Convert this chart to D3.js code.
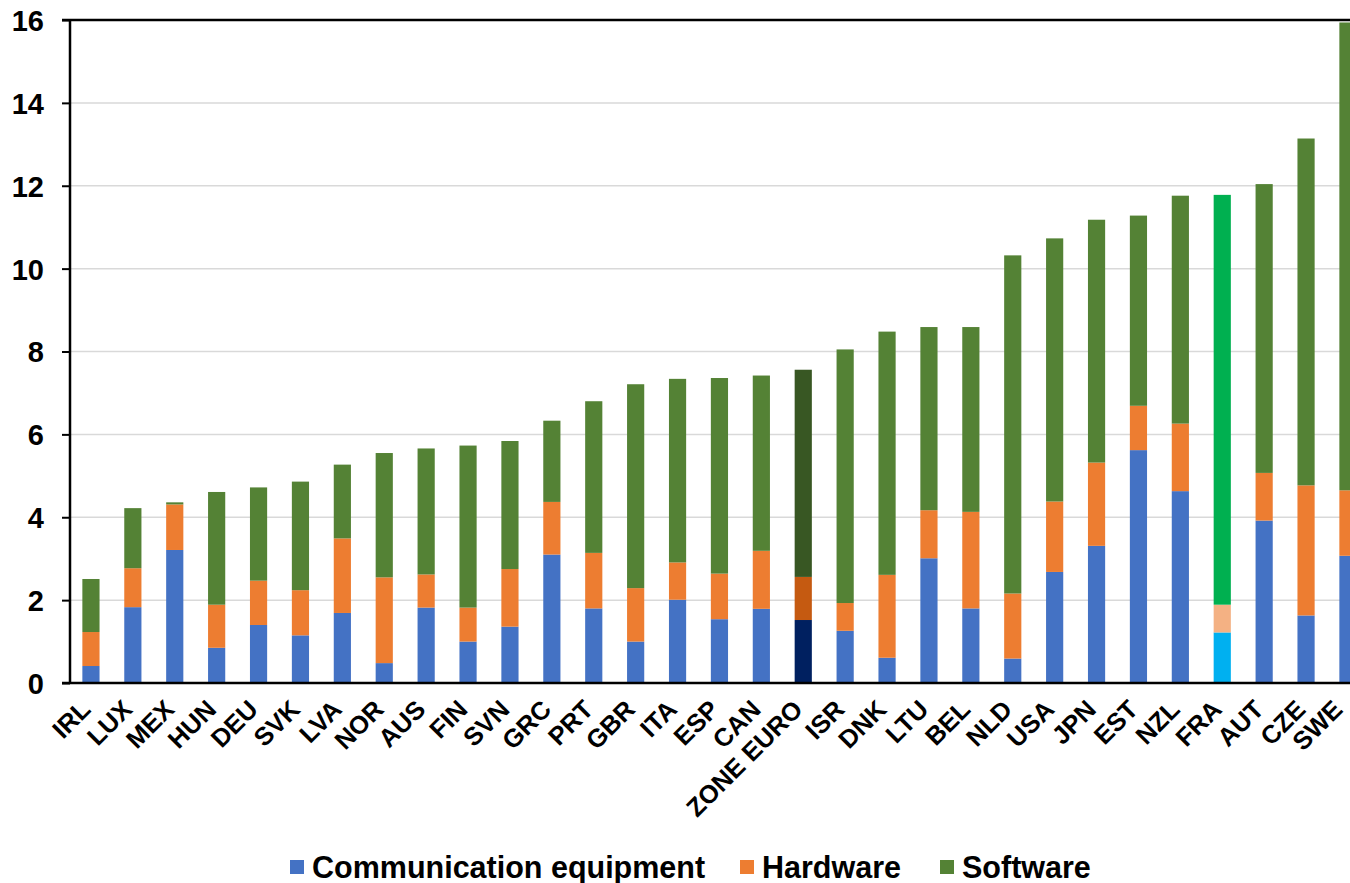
<!DOCTYPE html>
<html>
<head>
<meta charset="utf-8">
<script src="https://cdn.jsdelivr.net/npm/d3@7"></script>
<style>
  body { margin: 0; background: #fff; }
  text { font-family: "Liberation Sans", Arial, sans-serif; font-weight: bold; fill: #000; }
</style>
</head>
<body>
<div id="chart"></div>
<script>

// countries, in chart order
var countries = ["IRL", "LUX", "MEX", "HUN", "DEU", "SVK", "LVA", "NOR", "AUS", "FIN",
  "SVN", "GRC", "PRT", "GBR", "ITA", "ESP", "CAN", "ZONE EURO", "ISR", "DNK",
  "LTU", "BEL", "NLD", "USA", "JPN", "EST", "NZL", "FRA", "AUT", "CZE", "SWE"];

// share of each component
var communication = [0.41, 1.83, 3.21, 0.85, 1.40, 1.15, 1.69, 0.48, 1.82, 1.00,
  1.36, 3.10, 1.80, 1.00, 2.01, 1.54, 1.79, 1.52, 1.26, 0.61,
  3.01, 1.80, 0.59, 2.68, 3.31, 5.62, 4.63, 1.22, 3.92, 1.63, 3.07];

var hardware = [0.82, 0.94, 1.10, 1.04, 1.07, 1.09, 1.80, 2.07, 0.80, 0.82,
  1.39, 1.27, 1.34, 1.29, 0.90, 1.10, 1.40, 1.04, 0.67, 2.00,
  1.16, 2.33, 1.57, 1.70, 2.01, 1.07, 1.63, 0.67, 1.15, 3.14, 1.58];

var software = [1.28, 1.45, 0.05, 2.72, 2.25, 2.62, 1.78, 3.00, 3.04, 3.91,
  3.09, 1.96, 3.66, 4.92, 4.43, 4.72, 4.23, 5.00, 6.12, 5.87,
  4.42, 4.46, 8.16, 6.35, 5.86, 4.59, 5.50, 9.89, 6.97, 8.37, 11.29];

var seriesNames = ["Communication equipment", "Hardware", "Software"];
var seriesColors = ["#4472C4", "#ED7D31", "#548235"];

// highlighted bars get their own shades
var highlightColors = {
  "ZONE EURO": ["#002060", "#C55A11", "#385723"],
  "FRA": ["#00B0F0", "#F4B183", "#00B050"]
};

var yTicks = [0, 2, 4, 6, 8, 10, 12, 14, 16];

var width = 1350,
    height = 883;

var svg = d3.select("#chart").append("svg")
  .attr("width", width)
  .attr("height", height);

var rows = countries.map(function(c, i){
  return { country: c, "Communication equipment": communication[i], "Hardware": hardware[i], "Software": software[i] };
});

var stacked = d3.stack().keys(seriesNames)(rows);

var xScale = d3.scaleBand()
  .domain(countries)
  .range([70, 70 + countries.length * 41.9])
  .paddingInner(0.59)
  .paddingOuter(0.295);

var yScale = d3.scaleLinear()
  .domain([0, 16])
  .range([683, 20]);

// gridlines
svg.append("g")
  .selectAll("line")
  .data(yTicks.filter(function(d){ return d > 0 && d < 16; }))
  .enter().append("line")
  .attr("x1", 70)
  .attr("x2", width)
  .attr("y1", function(d){ return yScale(d); })
  .attr("y2", function(d){ return yScale(d); })
  .attr("stroke", "#d9d9d9")
  .attr("stroke-width", 1.5);

// bars
svg.append("g")
  .selectAll("g")
  .data(stacked)
  .enter().append("g")
  .each(function(layer, si){
    d3.select(this).selectAll("rect")
      .data(layer)
      .enter().append("rect")
      .attr("x", function(d){ return xScale(d.data.country); })
      .attr("width", xScale.bandwidth())
      .attr("y", function(d){ return yScale(d[1]); })
      .attr("height", function(d){ return yScale(d[0]) - yScale(d[1]); })
      .attr("fill", function(d){
        var h = highlightColors[d.data.country];
        return h ? h[si] : seriesColors[si];
      });
  });

// y axis
var yAxis = d3.axisLeft(yScale)
  .tickValues(yTicks)
  .tickSize(8)
  .tickPadding(18);

var yg = svg.append("g")
  .attr("transform", "translate(70,0)")
  .call(yAxis);
yg.select(".domain").remove();
yg.selectAll(".tick line").attr("stroke", "#000").attr("stroke-width", 2);
yg.selectAll(".tick text")
  .style("font-size", "29px")
  .attr("dy", "0.36em");

svg.append("line")
  .attr("x1", 70).attr("x2", 70)
  .attr("y1", yScale(16)).attr("y2", yScale(0))
  .attr("stroke", "#000").attr("stroke-width", 2.5);

// top border and baseline
svg.append("line")
  .attr("x1", 62).attr("x2", width)
  .attr("y1", yScale(16)).attr("y2", yScale(16))
  .attr("stroke", "#000").attr("stroke-width", 2.5);

svg.append("line")
  .attr("x1", 62).attr("x2", width)
  .attr("y1", yScale(0)).attr("y2", yScale(0))
  .attr("stroke", "#000").attr("stroke-width", 2.5);

// x labels, rotated (last one kept inside the frame)
svg.append("g")
  .selectAll("text")
  .data(countries)
  .enter().append("text")
  .attr("transform", function(d){
    var x = Math.min(xScale(d) + xScale.bandwidth() / 2 + 1, width - 6);
    return "translate(" + x + "," + 711 + ") rotate(-45)";
  })
  .attr("text-anchor", "end")
  .style("font-size", "25.5px")
  .text(function(d){ return d; });

// legend
var legendX = [290, 740, 940];
var legend = svg.append("g");

legend.selectAll("rect")
  .data(seriesNames)
  .enter().append("rect")
  .attr("x", function(d, i){ return legendX[i]; })
  .attr("y", 860)
  .attr("width", 14)
  .attr("height", 14)
  .attr("fill", function(d, i){ return seriesColors[i]; });

legend.selectAll("text")
  .data(seriesNames)
  .enter().append("text")
  .attr("x", function(d, i){ return legendX[i] + 22; })
  .attr("y", 867)
  .attr("dy", "0.36em")
  .style("font-size", "30.5px")
  .text(function(d){ return d; });

</script>
</body>
</html>
